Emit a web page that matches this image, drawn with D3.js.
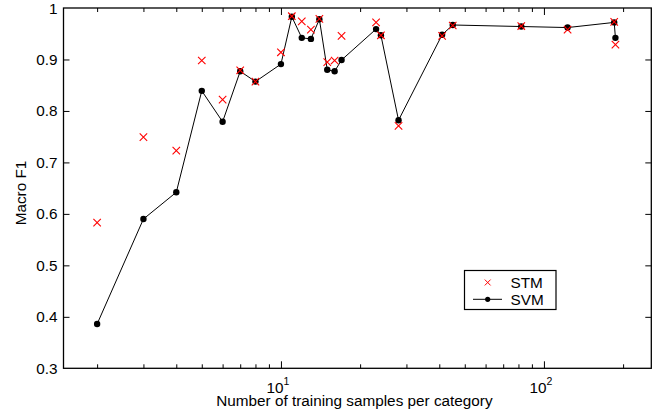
<!DOCTYPE html>
<html lang="en">
<head>
	<meta charset="utf-8">
	<title>Macro F1 vs training samples</title>
	<script src="https://d3js.org/d3.v7.min.js"></script>
	<style>
		body { margin: 0; background: #fff; }
		text { font-family: "Liberation Sans", Arial, sans-serif; fill: #000; }
		.tick line, .frame { stroke: #000; }
	</style>
</head>
<body>
	<script>
		// samples per category (x) and macro F1 for each method
		var samples = [2, 3, 4, 5, 6, 7, 8, 10, 11, 12, 13, 14, 15, 16, 17, 23, 24, 28, 41, 45, 82, 123, 185, 187];
		var stm = [0.583, 0.749, 0.723, 0.898, 0.822, 0.879, 0.857, 0.914, 0.984, 0.974, 0.958, 0.979,
			0.895, 0.898, 0.946, 0.972, 0.947, 0.771, 0.946, 0.966, 0.965, 0.958, 0.973, 0.929];
		var svm = [0.386, 0.590, 0.642, 0.839, 0.779, 0.877, 0.857, 0.891, 0.983, 0.942, 0.940, 0.978,
			0.880, 0.877, 0.899, 0.959, 0.947, 0.782, 0.948, 0.967, 0.964, 0.962, 0.972, 0.942];
		var yTicks = [0.3, 0.4, 0.5, 0.6, 0.7, 0.8, 0.9, 1];
		var xMajor = [10, 100];
		var xMinor = [2, 3, 4, 5, 6, 7, 8, 9, 20, 30, 40, 50, 60, 70, 80, 90, 200];

		var width = 657;
		var height = 413;
		var pLeft = 63.5, pRight = 651.3, pTop = 8, pBottom = 368.3;
		var fs = 15.3;

		var svg = d3.select("body")
			.append("svg")
			.attr("width", width)
			.attr("height", height);

		var x = d3.scaleLog()
			.domain([1.49, 256])
			.range([pLeft, pRight]);

		var y = d3.scaleLinear()
			.domain([0.3, 1])
			.range([pBottom, pTop]);

		// tick marks drawn inward on all four sides
		function xTicks(g, ticks, len, dir) {
			g.call(d3.axisBottom(x).tickValues(ticks).tickSize(len * dir).tickFormat(""));
			g.select(".domain").remove();
		}
		xTicks(svg.append("g").attr("transform", "translate(0," + pBottom + ")"), xMinor, 4, -1);
		xTicks(svg.append("g").attr("transform", "translate(0," + pBottom + ")"), xMajor, 7, -1);
		xTicks(svg.append("g").attr("transform", "translate(0," + pTop + ")"), xMinor, 4, 1);
		xTicks(svg.append("g").attr("transform", "translate(0," + pTop + ")"), xMajor, 7, 1);

		var yInner = yTicks.slice(1, -1);
		var gl = svg.append("g").attr("transform", "translate(" + pLeft + ",0)")
			.call(d3.axisRight(y).tickValues(yInner).tickSize(6).tickFormat(""));
		gl.select(".domain").remove();
		var gr = svg.append("g").attr("transform", "translate(" + pRight + ",0)")
			.call(d3.axisLeft(y).tickValues(yInner).tickSize(6).tickFormat(""));
		gr.select(".domain").remove();

		// frame
		svg.append("rect")
			.attr("class", "frame")
			.attr("x", pLeft).attr("y", pTop)
			.attr("width", pRight - pLeft).attr("height", pBottom - pTop)
			.attr("fill", "none")
			.attr("stroke-width", 1.3);

		// y labels
		svg.append("g").selectAll("text")
			.data(yTicks)
			.enter()
			.append("text")
			.attr("x", pLeft - 6)
			.attr("y", function(d) { return y(d) + 5.5; })
			.attr("text-anchor", "end")
			.attr("font-size", fs)
			.text(function(d) { return d === 1 ? "1" : d3.format(".1f")(d); });

		// x labels 10^1, 10^2
		var xl = svg.append("g").selectAll("text")
			.data(xMajor)
			.enter()
			.append("text")
			.attr("x", function(d) { return x(d) - 3; })
			.attr("y", 393)
			.attr("text-anchor", "middle")
			.attr("font-size", fs);
		xl.append("tspan").text("10");
		xl.append("tspan").attr("dy", -8).attr("font-size", 10.5)
			.text(function(d) { return Math.round(Math.log10(d)); });

		svg.append("text")
			.attr("x", (pLeft + pRight) / 2 - 3)
			.attr("y", 406)
			.attr("text-anchor", "middle")
			.attr("font-size", fs)
			.text("Number of training samples per category");

		svg.append("text")
			.attr("transform", "translate(25.5,193) rotate(-90)")
			.attr("text-anchor", "middle")
			.attr("font-size", fs)
			.text("Macro F1");

		// SVM line + dots
		var pts = samples.map(function(s, i) { return [s, svm[i]]; });
		svg.append("path")
			.datum(pts)
			.attr("fill", "none")
			.attr("stroke", "#000")
			.attr("stroke-width", 1)
			.attr("d", d3.line()
				.x(function(d) { return x(d[0]); })
				.y(function(d) { return y(d[1]); }));

		svg.append("g").selectAll("circle")
			.data(pts)
			.enter()
			.append("circle")
			.attr("cx", function(d) { return x(d[0]); })
			.attr("cy", function(d) { return y(d[1]); })
			.attr("r", 3.2)
			.attr("fill", "#000");

		// STM crosses
		var cross = d3.symbol().type(d3.symbolX).size(38);
		svg.append("g").selectAll("path")
			.data(samples)
			.enter()
			.append("path")
			.attr("d", cross)
			.attr("transform", function(d, i) { return "translate(" + x(d) + "," + y(stm[i]) + ")"; })
			.attr("fill", "none")
			.attr("stroke", "#ff0000")
			.attr("stroke-width", 1.1);

		// legend
		var lg = svg.append("g");
		lg.append("rect")
			.attr("x", 464.5).attr("y", 270.5)
			.attr("width", 91.5).attr("height", 39)
			.attr("fill", "#fff")
			.attr("stroke", "#000")
			.attr("stroke-width", 1.2);
		lg.append("path")
			.attr("d", d3.symbol().type(d3.symbolX).size(24)())
			.attr("transform", "translate(487.7,282.5)")
			.attr("fill", "none")
			.attr("stroke", "#ff0000")
			.attr("stroke-width", 1);
		lg.append("line")
			.attr("x1", 473).attr("x2", 502)
			.attr("y1", 299.3).attr("y2", 299.3)
			.attr("stroke", "#000");
		lg.append("circle")
			.attr("cx", 487.7).attr("cy", 299.3).attr("r", 2.6)
			.attr("fill", "#000");
		lg.append("text").attr("x", 510.5).attr("y", 288).attr("font-size", fs).text("STM");
		lg.append("text").attr("x", 510.5).attr("y", 304.5).attr("font-size", fs).text("SVM");
	</script>
</body>
</html>
